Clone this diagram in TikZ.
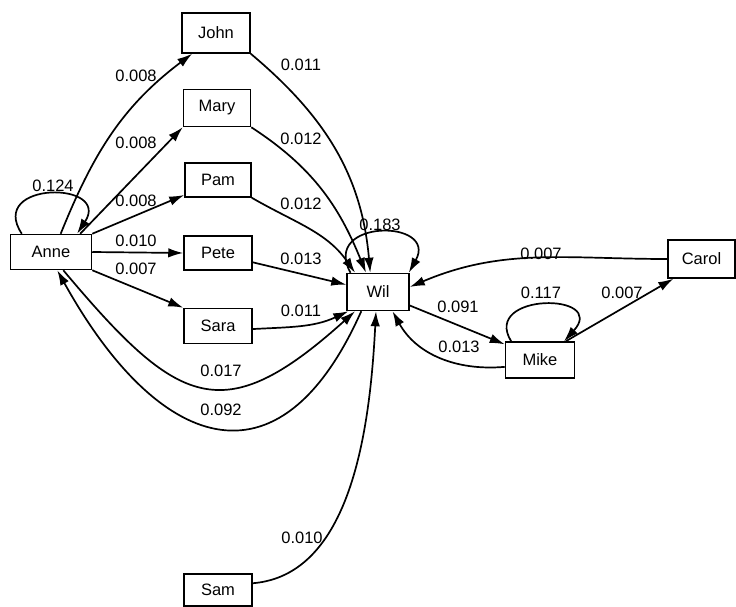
\documentclass[tikz,border=0pt]{standalone}
\usepackage{fontspec}
\setmainfont{Liberation Sans}
\usetikzlibrary{arrows.meta}
\begin{document}
\begin{tikzpicture}[x=1pt,y=1pt,
  box/.style={draw,line width=1.5pt,minimum width=68pt,minimum height=36pt,inner sep=0pt,font=\fontsize{16.5}{19}\selectfont},
  lbl/.style={inner sep=0pt,font=\fontsize{16.5}{19}\selectfont},
  conn/.style={line width=1.7pt,-{Latex[length=15pt,width=9.5pt]}},
]
\useasboundingbox (0,0) rectangle (736,-607);
% nodes
\node[box,minimum width=81pt,minimum height=35pt] (anne) at (51,-252) {Anne};
\node[box,minimum height=40pt] (john) at (216,-33) {John};
\node[box,minimum width=67pt,minimum height=37pt] (mary) at (217,-108) {Mary};
\node[box,minimum width=66pt,minimum height=34pt] (pam) at (218,-180) {Pam};
\node[box,minimum height=34pt] (pete) at (218,-253) {Pete};
\node[box,minimum height=35pt] (sara) at (218,-326) {Sara};
\node[box,minimum height=32pt] (sam) at (218,-590) {Sam};
\node[box,minimum width=62pt,minimum height=37pt] (wil) at (378,-292) {Wil};
\node[box,minimum width=67pt,minimum height=38pt] (carol) at (701.5,-259) {Carol};
\node[box,minimum width=69pt,minimum height=36pt] (mike) at (540,-360) {Mike};
% connectors
\draw[conn] (anne.62) to[out=68,in=217] (john.221);
\draw[conn] (anne.32) -- (mary.south west);
\draw[conn] (anne.north east) -- (pam.204);
\draw[conn] (anne.east) -- (pete.west);
\draw[conn] (anne.south east) -- (sara.north west);
\draw[conn] (john.south east) to[out=-40,in=95] (wil.112);
\draw[conn] (mary.south east) to[out=-33,in=112] (wil.122);
\draw[conn] (pam.south east) to[out=-30,in=125] (wil.140);
\draw[conn] (pete.-15) -- (wil.167);
\draw[conn] (sara.-5) to[out=3,in=205] (wil.213);
\draw[conn] (anne.-56) to[out=-50,in=222,looseness=1.55] (wil.220);
\draw[conn] (wil.229) to[out=-114,in=-61,looseness=1.7] (anne.-71);
\draw[conn] (sam.11) .. controls +(98,8) and +(-6,-119) .. (wil.264);
\draw[conn] (carol.west) to[out=180,in=23] (wil.9);
\draw[conn] (wil.-23) -- (mike.156);
\draw[conn] (mike.191) to[out=185,in=-61] (wil.-53);
\draw[conn] (mike.36) -- (carol.215);
% self loops
\draw[conn] (anne.148) .. controls +(-35,53) and +(35,53) .. (anne.35);
\draw[conn] (wil.145) .. controls +(-30,54) and +(30,54) .. (wil.32);
\draw[conn] (mike.147) .. controls +(-30,49) and +(45,49) .. (mike.38);
% labels
\node[lbl] (l1) at (136,-76) {0.008};
\node[lbl] (l2) at (136,-143) {0.008};
\node[lbl] (l3) at (136,-201) {0.008};
\node[lbl] (l4) at (136,-241) {0.010};
\node[lbl] (l5) at (136,-269) {0.007};
\node[lbl] (l6) at (53,-186) {0.124};
\node[lbl] (l7) at (301,-65) {0.011};
\node[lbl] (l8) at (301,-139) {0.012};
\node[lbl] (l9) at (301,-204) {0.012};
\node[lbl] (l10) at (301,-259) {0.013};
\node[lbl] (l11) at (301,-311) {0.011};
\node[lbl] (l12) at (221,-371) {0.017};
\node[lbl] (l13) at (221,-410) {0.092};
\node[lbl] (l14) at (302,-538) {0.010};
\node[lbl] (l15) at (380,-225) {0.183};
\node[lbl] (l16) at (541,-254) {0.007};
\node[lbl] (l17) at (541,-293) {0.117};
\node[lbl] (l18) at (622,-293) {0.007};
\node[lbl] (l19) at (458,-307) {0.091};
\node[lbl] (l20) at (459,-347) {0.013};
\end{tikzpicture}
\end{document}
